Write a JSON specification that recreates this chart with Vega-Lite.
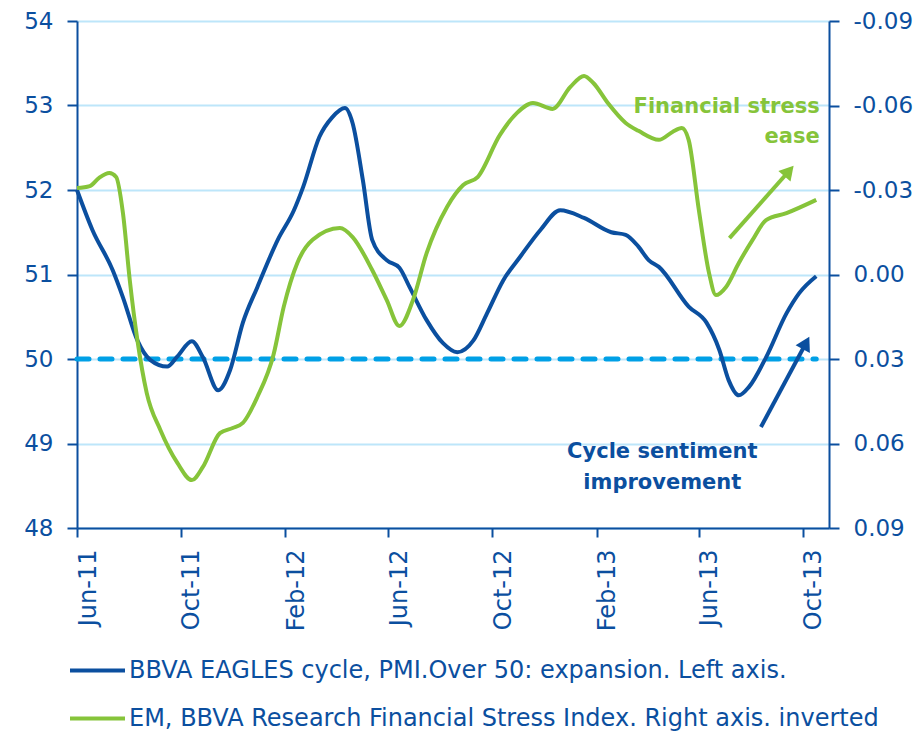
{
  "$schema": "https://vega.github.io/schema/vega-lite/v6.json",
  "width": 752,
  "height": 507,
  "autosize": {"type": "none"},
  "padding": {"left": 77, "top": 21, "right": 89, "bottom": 203},
  "background": "white",
  "config": {
    "view": {"stroke": null},
    "font": "DejaVu Sans",
    "axis": {"labelFont": "DejaVu Sans"}
  },
  "datasets": {
    "pmi": [
      {"date": "2011-06-01", "v": 52.00},
      {"date": "2011-06-19", "v": 51.53},
      {"date": "2011-07-13", "v": 51.05},
      {"date": "2011-07-25", "v": 50.73},
      {"date": "2011-08-11", "v": 50.22},
      {"date": "2011-08-26", "v": 49.99},
      {"date": "2011-09-15", "v": 49.91},
      {"date": "2011-09-27", "v": 50.03},
      {"date": "2011-10-14", "v": 50.21},
      {"date": "2011-10-27", "v": 50.02},
      {"date": "2011-11-14", "v": 49.63},
      {"date": "2011-11-28", "v": 49.87},
      {"date": "2011-12-13", "v": 50.43},
      {"date": "2011-12-30", "v": 50.85},
      {"date": "2012-01-23", "v": 51.41},
      {"date": "2012-02-11", "v": 51.76},
      {"date": "2012-02-22", "v": 52.04},
      {"date": "2012-03-12", "v": 52.63},
      {"date": "2012-03-27", "v": 52.86},
      {"date": "2012-04-11", "v": 52.97},
      {"date": "2012-04-20", "v": 52.79},
      {"date": "2012-05-02", "v": 52.12},
      {"date": "2012-05-13", "v": 51.41},
      {"date": "2012-05-30", "v": 51.17},
      {"date": "2012-06-14", "v": 51.08},
      {"date": "2012-06-26", "v": 50.85},
      {"date": "2012-07-16", "v": 50.46},
      {"date": "2012-08-04", "v": 50.19},
      {"date": "2012-08-21", "v": 50.08},
      {"date": "2012-09-09", "v": 50.22},
      {"date": "2012-09-25", "v": 50.54},
      {"date": "2012-10-14", "v": 50.93},
      {"date": "2012-11-03", "v": 51.21},
      {"date": "2012-11-27", "v": 51.53},
      {"date": "2012-12-20", "v": 51.76},
      {"date": "2013-01-17", "v": 51.67},
      {"date": "2013-02-18", "v": 51.50},
      {"date": "2013-03-07", "v": 51.47},
      {"date": "2013-03-22", "v": 51.33},
      {"date": "2013-04-03", "v": 51.17},
      {"date": "2013-04-15", "v": 51.09},
      {"date": "2013-05-20", "v": 50.62},
      {"date": "2013-06-10", "v": 50.43},
      {"date": "2013-06-25", "v": 50.11},
      {"date": "2013-07-06", "v": 49.75},
      {"date": "2013-07-18", "v": 49.57},
      {"date": "2013-07-30", "v": 49.67},
      {"date": "2013-08-19", "v": 50.02},
      {"date": "2013-09-12", "v": 50.54},
      {"date": "2013-09-27", "v": 50.78},
      {"date": "2013-10-17", "v": 50.98}
    ],
    "fsi": [
      {"date": "2011-06-01", "v": -0.0307},
      {"date": "2011-06-16", "v": -0.0314},
      {"date": "2011-06-27", "v": -0.0343},
      {"date": "2011-07-09", "v": -0.0360},
      {"date": "2011-07-17", "v": -0.0346},
      {"date": "2011-07-25", "v": -0.0218},
      {"date": "2011-08-02", "v": 0.0019},
      {"date": "2011-08-11", "v": 0.0233},
      {"date": "2011-08-22", "v": 0.0421},
      {"date": "2011-09-07", "v": 0.0552},
      {"date": "2011-09-27", "v": 0.0669},
      {"date": "2011-10-14", "v": 0.0730},
      {"date": "2011-10-27", "v": 0.0683},
      {"date": "2011-11-16", "v": 0.0563},
      {"date": "2011-12-01", "v": 0.0545},
      {"date": "2011-12-13", "v": 0.0527},
      {"date": "2011-12-30", "v": 0.0435},
      {"date": "2012-01-18", "v": 0.0285},
      {"date": "2012-01-30", "v": 0.0115},
      {"date": "2012-02-15", "v": -0.0041},
      {"date": "2012-03-04", "v": -0.0123},
      {"date": "2012-04-05", "v": -0.0165},
      {"date": "2012-04-20", "v": -0.0133},
      {"date": "2012-05-13", "v": -0.0016},
      {"date": "2012-05-30", "v": 0.0090},
      {"date": "2012-06-14", "v": 0.0183},
      {"date": "2012-06-30", "v": 0.0090},
      {"date": "2012-07-16", "v": -0.0076},
      {"date": "2012-08-09", "v": -0.0240},
      {"date": "2012-08-28", "v": -0.0318},
      {"date": "2012-09-14", "v": -0.0346},
      {"date": "2012-10-10", "v": -0.0495},
      {"date": "2012-10-30", "v": -0.0573},
      {"date": "2012-11-18", "v": -0.0609},
      {"date": "2012-12-11", "v": -0.0588},
      {"date": "2013-01-01", "v": -0.0666},
      {"date": "2013-01-17", "v": -0.0705},
      {"date": "2013-01-28", "v": -0.0680},
      {"date": "2013-02-14", "v": -0.0609},
      {"date": "2013-03-07", "v": -0.0538},
      {"date": "2013-03-22", "v": -0.0510},
      {"date": "2013-04-15", "v": -0.0478},
      {"date": "2013-05-01", "v": -0.0506},
      {"date": "2013-05-12", "v": -0.0520},
      {"date": "2013-05-20", "v": -0.0478},
      {"date": "2013-06-01", "v": -0.0229},
      {"date": "2013-06-13", "v": -0.0005},
      {"date": "2013-06-21", "v": 0.0073},
      {"date": "2013-07-03", "v": 0.0044},
      {"date": "2013-07-18", "v": -0.0041},
      {"date": "2013-08-03", "v": -0.0122},
      {"date": "2013-08-19", "v": -0.0193},
      {"date": "2013-09-12", "v": -0.0218},
      {"date": "2013-10-17", "v": -0.0265}
    ],
    "ref": [{"d1": "2011-06-01", "d2": "2013-10-17", "v": 50}],
    "arrows": [
      {"name": "green", "x1": "2013-07-07", "y1": 51.43, "x2": "2013-09-15", "y2": 52.225},
      {"name": "blue", "x1": "2013-08-13", "y1": 49.195, "x2": "2013-10-05", "y2": 50.19}
    ],
    "notes": [
      {"name": "fin", "date": "2013-10-21", "v": 52.91},
      {"name": "cyc", "date": "2013-04-19", "v": 48.83}
    ]
  },
  "layer": [
    {
      "layer": [
        {
          "data": {"name": "ref"},
          "mark": {"type": "rule", "color": "#00A0E6", "strokeWidth": 5, "strokeDash": [12, 11], "strokeCap": "round"},
          "encoding": {
            "x": {"field": "d1", "type": "temporal"},
            "x2": {"field": "d2"},
            "y": {"field": "v", "type": "quantitative", "scale": {"domain": [48, 54]}}
          }
        },
        {
          "data": {"name": "pmi"},
          "mark": {"type": "line", "strokeWidth": 4, "interpolate": "monotone"},
          "encoding": {
            "x": {
              "field": "date",
              "type": "temporal",
              "scale": {"type": "utc", "domain": [{"year": 2011, "month": 6, "date": 1, "utc": true}, {"year": 2013, "month": 11, "date": 1, "utc": true}]},
              "axis": {
                "title": null,
                "values": [
                  {"year": 2011, "month": 6, "date": 1, "utc": true},
                  {"year": 2011, "month": 10, "date": 1, "utc": true},
                  {"year": 2012, "month": 2, "date": 1, "utc": true},
                  {"year": 2012, "month": 6, "date": 1, "utc": true},
                  {"year": 2012, "month": 10, "date": 1, "utc": true},
                  {"year": 2013, "month": 2, "date": 1, "utc": true},
                  {"year": 2013, "month": 6, "date": 1, "utc": true},
                  {"year": 2013, "month": 10, "date": 1, "utc": true}
                ],
                "labelExpr": "utcFormat(datum.value, '%b-%y')",
                "labelAngle": -90,
                "labelAlign": "right",
                "labelBaseline": "middle",
                "labelOffset": 11,
                "labelPadding": 12,
                "labelFontSize": 24,
                "labelColor": "#0B4F9F",
                "domainColor": "#0B4F9F",
                "domainWidth": 2,
                "tickColor": "#0B4F9F",
                "tickWidth": 2,
                "tickSize": 9,
                "grid": false,
                "labelFlush": false,
                "labelOverlap": false
              }
            },
            "y": {
              "field": "v",
              "type": "quantitative",
              "scale": {"domain": [48, 54]},
              "axis": {
                "title": null,
                "values": [48, 49, 50, 51, 52, 53, 54],
                "format": "d",
                "grid": true,
                "gridColor": "#BDE6FA",
                "gridWidth": 2,
                "labelFontSize": 23,
                "labelColor": "#0B4F9F",
                "labelPadding": 14,
                "domainColor": "#0B4F9F",
                "domainWidth": 2,
                "tickColor": "#0B4F9F",
                "tickWidth": 2,
                "tickSize": 10
              }
            },
            "color": {
              "datum": "BBVA EAGLES cycle, PMI.Over 50: expansion. Left axis.",
              "type": "nominal",
              "scale": {
                "domain": ["BBVA EAGLES cycle, PMI.Over 50: expansion. Left axis.", "EM, BBVA Research Financial Stress Index. Right axis. inverted"],
                "range": ["#0B4F9F", "#86C43A"]
              },
              "legend": {
                "orient": "none",
                "legendX": -9,
                "legendY": 620,
                "direction": "vertical",
                "title": null,
                "padding": 0,
                "symbolType": "stroke",
                "symbolSize": 3025,
                "symbolStrokeWidth": 4,
                "labelFont": "DejaVu Sans",
                "labelFontSize": 24,
                "labelColor": "#0B4F9F",
                "labelOffset": 2,
                "labelLimit": 0,
                "rowPadding": 6
              }
            }
          }
        },
        {
          "data": {"name": "arrows"},
          "transform": [{"filter": "datum.name === 'green'"}],
          "mark": {"type": "rule", "color": "#86C43A", "strokeWidth": 4},
          "encoding": {
            "x": {"field": "x1", "type": "temporal"},
            "x2": {"field": "x2"},
            "y": {"field": "y1", "type": "quantitative"},
            "y2": {"field": "y2"}
          }
        },
        {
          "data": {"name": "arrows"},
          "transform": [{"filter": "datum.name === 'green'"}],
          "mark": {"type": "point", "shape": "triangle-up", "filled": true, "color": "#86C43A", "opacity": 1, "size": 260, "angle": 41},
          "encoding": {
            "x": {"field": "x2", "type": "temporal"},
            "y": {"field": "y2", "type": "quantitative"}
          }
        },
        {
          "data": {"name": "arrows"},
          "transform": [{"filter": "datum.name === 'blue'"}],
          "mark": {"type": "rule", "color": "#0B4F9F", "strokeWidth": 4},
          "encoding": {
            "x": {"field": "x1", "type": "temporal"},
            "x2": {"field": "x2"},
            "y": {"field": "y1", "type": "quantitative"},
            "y2": {"field": "y2"}
          }
        },
        {
          "data": {"name": "arrows"},
          "transform": [{"filter": "datum.name === 'blue'"}],
          "mark": {"type": "point", "shape": "triangle-up", "filled": true, "color": "#0B4F9F", "opacity": 1, "size": 260, "angle": 28},
          "encoding": {
            "x": {"field": "x2", "type": "temporal"},
            "y": {"field": "y2", "type": "quantitative"}
          }
        },
        {
          "data": {"name": "notes"},
          "transform": [{"filter": "datum.name === 'fin'"}],
          "mark": {"type": "text", "text": ["Financial  stress", "ease"], "align": "right", "baseline": "alphabetic", "lineHeight": 30, "font": "DejaVu Sans", "fontWeight": "bold", "fontSize": 21, "color": "#86C43A"},
          "encoding": {
            "x": {"field": "date", "type": "temporal"},
            "y": {"field": "v", "type": "quantitative"}
          }
        },
        {
          "data": {"name": "notes"},
          "transform": [{"filter": "datum.name === 'cyc'"}],
          "mark": {"type": "text", "text": ["Cycle sentiment", "improvement"], "align": "center", "baseline": "alphabetic", "lineHeight": 31, "font": "DejaVu Sans", "fontWeight": "bold", "fontSize": 21, "color": "#0B4F9F"},
          "encoding": {
            "x": {"field": "date", "type": "temporal"},
            "y": {"field": "v", "type": "quantitative"}
          }
        }
      ]
    },
    {
      "data": {"name": "fsi"},
      "mark": {"type": "line", "strokeWidth": 4, "interpolate": "monotone"},
      "encoding": {
        "x": {"field": "date", "type": "temporal"},
        "y": {
          "field": "v",
          "type": "quantitative",
          "scale": {"domain": [-0.09, 0.09], "reverse": true, "nice": false, "zero": false},
          "axis": {
            "orient": "right",
            "title": null,
            "values": [-0.09, -0.06, -0.03, 0, 0.03, 0.06, 0.09],
            "labelExpr": "(datum.value < -0.0001 ? '-' : '') + format(abs(datum.value), '.2f')",
            "grid": false,
            "labelFontSize": 23,
            "labelColor": "#0B4F9F",
            "labelPadding": 14,
            "domainColor": "#0B4F9F",
            "domainWidth": 2,
            "tickColor": "#0B4F9F",
            "tickWidth": 2,
            "tickSize": 10
          }
        },
        "color": {"datum": "EM, BBVA Research Financial Stress Index. Right axis. inverted", "type": "nominal"}
      }
    }
  ],
  "resolve": {"scale": {"y": "independent"}}
}
